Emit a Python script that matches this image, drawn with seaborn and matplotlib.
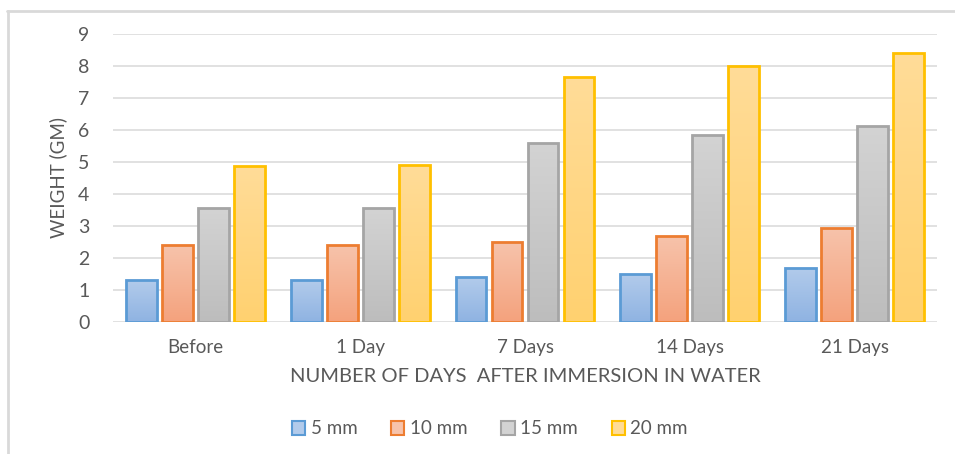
import numpy as np
import pandas as pd
import matplotlib
matplotlib.use("Agg")
import matplotlib.pyplot as plt
from matplotlib.colors import LinearSegmentedColormap
from matplotlib.patches import Patch
from matplotlib.lines import Line2D
import seaborn as sns

# Weight readings per specimen size, by time after immersion
days = ["Before", "1 Day", "7 Days", "14 Days", "21 Days"]
sizes = ["5 mm", "10 mm", "15 mm", "20 mm"]
w_5mm = [1.3, 1.3, 1.4, 1.5, 1.7]
w_10mm = [2.4, 2.4, 2.5, 2.7, 2.95]
w_15mm = [3.55, 3.55, 5.6, 5.85, 6.13]
w_20mm = [4.87, 4.9, 7.65, 8.0, 8.4]
yticks = list(range(0, 10))

edge_colors = ["#5b9bd5", "#ed7d31", "#a5a5a5", "#ffc000"]
fill_top = ["#b2cbeb", "#f7c3ab", "#d3d3d3", "#ffdc98"]
fill_bottom = ["#8fb3e2", "#f4a27d", "#bdbdbd", "#ffd170"]

df = pd.DataFrame({
    "day": days * 4,
    "size": [s for s in sizes for _ in days],
    "weight": w_5mm + w_10mm + w_15mm + w_20mm,
})

sns.set_theme(style="white")
plt.rcParams["font.family"] = ["Lato", "DejaVu Sans"]
text_grey = "#595959"
fs = 13.5

fig = plt.figure(figsize=(9.55, 4.54), dpi=100)
W, H = 955, 454
ax = fig.add_axes([113 / W, (H - 322) / H, (937 - 113) / W, (322 - 34) / H])

sns.barplot(data=df, x="day", y="weight", hue="size", order=days, hue_order=sizes,
            palette=fill_bottom, width=0.874, gap=0.14, ax=ax, legend=False,
            errorbar=None, saturation=1)

ax.set_yticks(yticks)
ax.yaxis.grid(True, color="#d9d9d9", linewidth=1.1, zorder=0)
ax.set_axisbelow(True)
for s in ax.spines.values():
    s.set_visible(False)
ax.tick_params(axis="both", length=0, colors=text_grey, labelsize=fs)
ax.tick_params(axis="y", labelsize=14, pad=17)
ax.tick_params(axis="x", pad=12)

# vertical gradient fill inside each bar, with a coloured outline
for i, cont in enumerate(ax.containers):
    cmap = LinearSegmentedColormap.from_list(f"g{i}", [fill_bottom[i], fill_top[i]])
    for bar in cont:
        x0, y0 = bar.get_x(), bar.get_y()
        bw, bh = bar.get_width(), bar.get_height()
        bar.set_facecolor("none")
        bar.set_edgecolor(edge_colors[i])
        bar.set_linewidth(2.0)
        bar.set_zorder(3)
        grad = np.linspace(0, 1, 100).reshape(-1, 1)
        im = ax.imshow(grad, cmap=cmap, origin="lower", aspect="auto",
                       extent=[x0, x0 + bw, y0, y0 + bh], zorder=2,
                       interpolation="bilinear")
        im.set_clip_path(bar)
ax.set_aspect("auto")
ax.set_xlim(-0.5, len(days) - 0.5)
ax.set_ylim(0, 9)

# y-axis title placed at a fixed spot left of the tick labels
ax.set_ylabel("")
fig.text(58 / W, 1 - 178 / H, "WEIGHT (GM)", rotation=90, ha="center", va="center",
         color=text_grey, fontsize=fs)
ax.set_xlabel("NUMBER OF DAYS  AFTER IMMERSION IN WATER", color=text_grey,
              fontsize=14.5, labelpad=9)

handles = [Patch(facecolor=fill_top[i], edgecolor=edge_colors[i], linewidth=1.5)
           for i in range(len(sizes))]
fig.legend(handles, sizes, loc="center", bbox_to_anchor=(490 / W, 1 - 429 / H),
           ncol=4, frameon=False, handlelength=0.7, handleheight=0.7,
           handletextpad=0.3, columnspacing=1.8,
           prop={"size": fs}, labelcolor=text_grey)

# light chart-area border on the left and top
fig.add_artist(Line2D([7.5 / W, 7.5 / W], [0, 1 - 11 / H], transform=fig.transFigure,
                      color="#d9d9d9", linewidth=2))
fig.add_artist(Line2D([7 / W, 1], [1 - 11 / H, 1 - 11 / H], transform=fig.transFigure,
                      color="#d9d9d9", linewidth=2))

fig.savefig("out.png", dpi=100, facecolor="white")
